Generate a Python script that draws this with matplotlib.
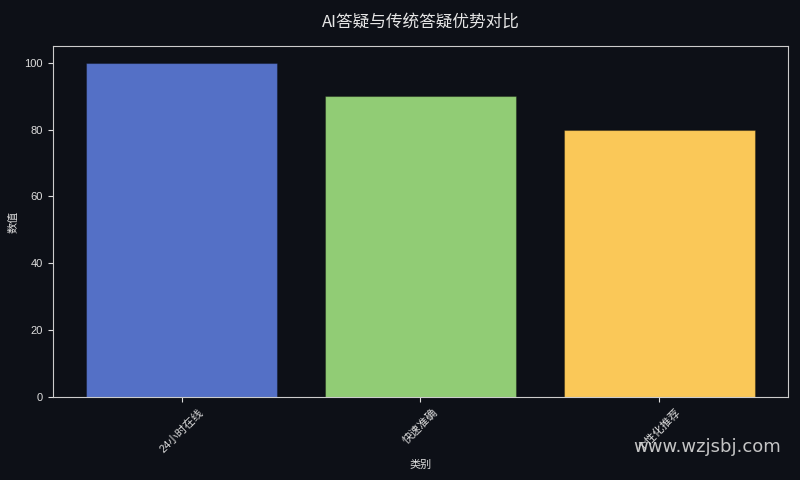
import matplotlib
matplotlib.use("Agg")
import matplotlib.pyplot as plt

plt.rcParams['font.family'] = ['Liberation Sans', 'Noto Sans CJK SC', 'DejaVu Sans']
plt.rcParams['axes.unicode_minus'] = False

categories = ["24小时在线", "快速准确", "个性化推荐"]
values = [100, 90, 80]
colors = ["#5470c6", "#91cc75", "#fac858"]

bg = "#0d1017"
fig = plt.figure(figsize=(8, 4.8), dpi=100, facecolor=bg)
ax = fig.add_axes([0.066, 0.173, 0.919, 0.731])
ax.set_facecolor(bg)

ax.bar(categories, values, color=colors, width=0.8, edgecolor=(0, 0, 0, 0.3), linewidth=0.8)

ax.set_title("AI答疑与传统答疑优势对比", color="#e6e6e6", fontsize=12, pad=14,
             family=['Noto Sans CJK SC', 'DejaVu Sans'])
ax.set_xlabel("类别", color="#dddddd", fontsize=8)
ax.set_ylabel("数值", color="#dddddd", fontsize=8)
ax.tick_params(colors="#dddddd", labelsize=8)
plt.setp(ax.get_xticklabels(), rotation=45, ha="center")
for s in ax.spines.values():
    s.set_color("#cccccc")

fig.text(0.976, 0.068, "www.wzjsbj.com", color="#d9d9d9", fontsize=13, ha="right", va="center",
         family=["DejaVu Sans"], alpha=0.9)

fig.savefig("out.png", dpi=100, facecolor=bg)
